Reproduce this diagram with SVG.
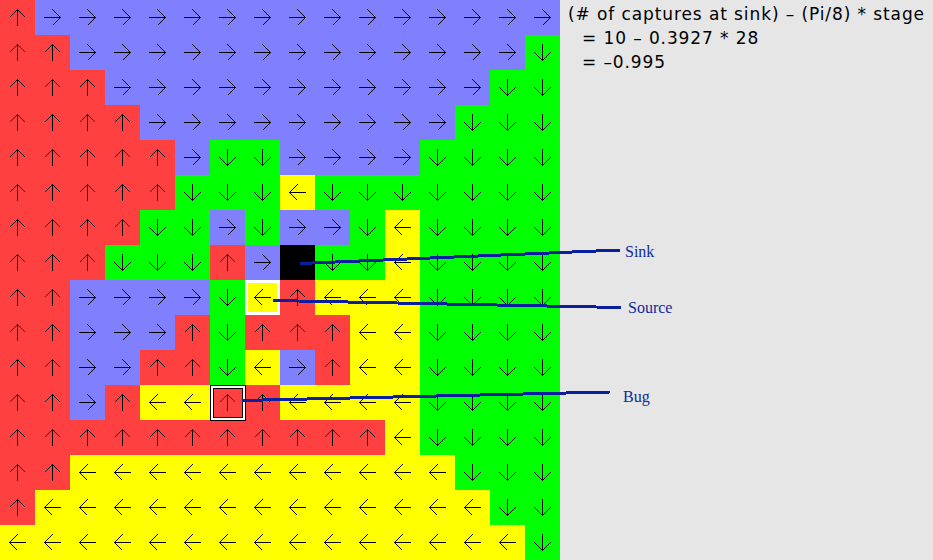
<svg xmlns="http://www.w3.org/2000/svg" width="933" height="560" viewBox="0 0 933 560">
<style>
.a{fill:none;stroke:#000;stroke-width:1;shape-rendering:crispEdges}
.R{fill:url(#pR)}.B{fill:url(#pB)}.G{fill:url(#pG)}.Y{fill:url(#pY)}
.c{fill:none;stroke:#0a1e9e;stroke-width:3;shape-rendering:crispEdges}
.lbl{font-family:"Liberation Serif","Times New Roman",serif;font-size:16px;fill:#0f2a9e}
.f{font-family:"DejaVu Sans","Liberation Sans",sans-serif;font-size:17px;letter-spacing:0.9px;fill:#000}
</style>
<defs>
<pattern id="pR" width="35" height="35" patternUnits="userSpaceOnUse"><rect width="35" height="35" fill="#ff4040"/><path class="a" d="M17.5,26V9M9.5,17.5L17.5,9.5L25.5,17.5"/></pattern>
<pattern id="pB" width="35" height="35" patternUnits="userSpaceOnUse"><rect width="35" height="35" fill="#8080ff"/><path class="a" d="M9,17.5H26M17.5,9.5L25.5,17.5L17.5,25.5"/></pattern>
<pattern id="pG" width="35" height="35" patternUnits="userSpaceOnUse"><rect width="35" height="35" fill="#00ff00"/><path class="a" d="M17.5,9V26M9.5,17.5L17.5,25.5L25.5,17.5"/></pattern>
<pattern id="pY" width="35" height="35" patternUnits="userSpaceOnUse"><rect width="35" height="35" fill="#ffff00"/><path class="a" d="M26,17.5H9M17.5,9.5L9.5,17.5L17.5,25.5"/></pattern>
</defs>
<rect width="933" height="560" fill="#e6e6e6"/>
<g id="grid">
<rect class="R" x="0" y="0" width="35" height="35"/><rect class="B" x="35" y="0" width="525" height="35"/>
<rect class="R" x="0" y="35" width="70" height="35"/><rect class="B" x="70" y="35" width="455" height="35"/><rect class="G" x="525" y="35" width="35" height="35"/>
<rect class="R" x="0" y="70" width="105" height="35"/><rect class="B" x="105" y="70" width="385" height="35"/><rect class="G" x="490" y="70" width="70" height="35"/>
<rect class="R" x="0" y="105" width="140" height="35"/><rect class="B" x="140" y="105" width="315" height="35"/><rect class="G" x="455" y="105" width="105" height="35"/>
<rect class="R" x="0" y="140" width="175" height="35"/><rect class="B" x="175" y="140" width="35" height="35"/><rect class="G" x="210" y="140" width="70" height="35"/><rect class="B" x="280" y="140" width="140" height="35"/><rect class="G" x="420" y="140" width="140" height="35"/>
<rect class="R" x="0" y="175" width="175" height="35"/><rect class="G" x="175" y="175" width="105" height="35"/><rect class="Y" x="280" y="175" width="35" height="35"/><rect class="G" x="315" y="175" width="245" height="35"/>
<rect class="R" x="0" y="210" width="140" height="35"/><rect class="G" x="140" y="210" width="70" height="35"/><rect class="B" x="210" y="210" width="35" height="35"/><rect class="G" x="245" y="210" width="35" height="35"/><rect class="B" x="280" y="210" width="70" height="35"/><rect class="G" x="350" y="210" width="35" height="35"/><rect class="Y" x="385" y="210" width="35" height="35"/><rect class="G" x="420" y="210" width="140" height="35"/>
<rect class="R" x="0" y="245" width="105" height="35"/><rect class="G" x="105" y="245" width="105" height="35"/><rect class="R" x="210" y="245" width="35" height="35"/><rect class="B" x="245" y="245" width="35" height="35"/><rect class="G" x="315" y="245" width="70" height="35"/><rect class="Y" x="385" y="245" width="35" height="35"/><rect class="G" x="420" y="245" width="140" height="35"/>
<rect class="R" x="0" y="280" width="70" height="35"/><rect class="B" x="70" y="280" width="140" height="35"/><rect class="G" x="210" y="280" width="35" height="35"/><rect class="Y" x="245" y="280" width="35" height="35"/><rect class="R" x="280" y="280" width="35" height="35"/><rect class="Y" x="315" y="280" width="105" height="35"/><rect class="G" x="420" y="280" width="140" height="35"/>
<rect class="R" x="0" y="315" width="70" height="35"/><rect class="B" x="70" y="315" width="105" height="35"/><rect class="R" x="175" y="315" width="35" height="35"/><rect class="G" x="210" y="315" width="35" height="35"/><rect class="R" x="245" y="315" width="105" height="35"/><rect class="Y" x="350" y="315" width="70" height="35"/><rect class="G" x="420" y="315" width="140" height="35"/>
<rect class="R" x="0" y="350" width="70" height="35"/><rect class="B" x="70" y="350" width="70" height="35"/><rect class="R" x="140" y="350" width="70" height="35"/><rect class="G" x="210" y="350" width="35" height="35"/><rect class="Y" x="245" y="350" width="35" height="35"/><rect class="B" x="280" y="350" width="35" height="35"/><rect class="R" x="315" y="350" width="35" height="35"/><rect class="Y" x="350" y="350" width="70" height="35"/><rect class="G" x="420" y="350" width="140" height="35"/>
<rect class="R" x="0" y="385" width="70" height="35"/><rect class="B" x="70" y="385" width="35" height="35"/><rect class="R" x="105" y="385" width="35" height="35"/><rect class="Y" x="140" y="385" width="70" height="35"/><rect class="R" x="210" y="385" width="70" height="35"/><rect class="Y" x="280" y="385" width="140" height="35"/><rect class="G" x="420" y="385" width="140" height="35"/>
<rect class="R" x="0" y="420" width="385" height="35"/><rect class="Y" x="385" y="420" width="35" height="35"/><rect class="G" x="420" y="420" width="140" height="35"/>
<rect class="R" x="0" y="455" width="70" height="35"/><rect class="Y" x="70" y="455" width="385" height="35"/><rect class="G" x="455" y="455" width="105" height="35"/>
<rect class="R" x="0" y="490" width="35" height="35"/><rect class="Y" x="35" y="490" width="455" height="35"/><rect class="G" x="490" y="490" width="70" height="35"/>
<rect class="Y" x="0" y="525" width="525" height="35"/><rect class="G" x="525" y="525" width="35" height="35"/>
</g>
<g id="sink"><rect x="280" y="245" width="35" height="35" fill="#000"/></g>
<g id="source"><rect x="246.5" y="281.5" width="32" height="32" fill="none" stroke="#fff" stroke-width="3" shape-rendering="crispEdges"/></g>
<g id="bug" fill="none" shape-rendering="crispEdges">
<rect x="210.5" y="385.5" width="35" height="35" stroke="#000" stroke-width="1"/>
<rect x="212" y="387" width="32" height="32" stroke="#fff" stroke-width="2"/>
<rect x="213.5" y="388.5" width="29" height="29" stroke="#000" stroke-width="1"/>
</g>
<g id="connectors">
<line class="c" x1="300" y1="263.5" x2="620" y2="250"/>
<line class="c" x1="273" y1="300.5" x2="621" y2="307.5"/>
<line class="c" x1="242" y1="400.5" x2="610" y2="392"/>
</g>
<g id="labels">
<text class="lbl" x="625" y="257">Sink</text>
<text class="lbl" x="628" y="313">Source</text>
<text class="lbl" x="623" y="402">Bug</text>
</g>
<g id="formula">
<text class="f" x="568" y="20">(# of captures at sink) – (Pi/8) * stage</text>
<text class="f" x="582" y="44">= 10 – 0.3927 * 28</text>
<text class="f" x="582" y="68">= –0.995</text>
</g>
</svg>
